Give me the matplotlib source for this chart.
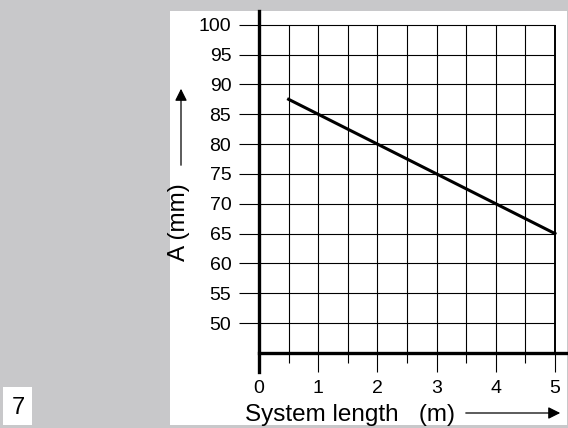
import numpy as np
import matplotlib.pyplot as plt
from matplotlib.patches import Rectangle

plt.rcParams['font.family'] = ['Liberation Sans', 'DejaVu Sans']

# data
length_m = [0.5, 1, 2, 3, 4, 5]
amplitude_mm = [87.5, 85, 80, 75, 70, 65]
y_ticks = [50, 55, 60, 65, 70, 75, 80, 85, 90, 95, 100]
x_ticks = [0, 1, 2, 3, 4, 5]
x_minor = [0.5, 1.5, 2.5, 3.5, 4.5]

W, H = 568, 428
fig = plt.figure(figsize=(W / 100, H / 100), dpi=100)
fig.patch.set_facecolor('#c8c8ca')

# white sheet
fig.patches.append(Rectangle((170 / W, 3 / H), 397 / W, 414 / H,
                             transform=fig.transFigure, facecolor='white',
                             edgecolor='none', zorder=-5))
# little number box bottom left
fig.patches.append(Rectangle((3 / W, 3 / H), 29 / W, 38 / H,
                             transform=fig.transFigure, facecolor='white',
                             edgecolor='none', zorder=-5))
fig.text(18 / W, (H - 408) / H, "7", fontsize=17, ha='center', va='center')

# axes: x 0..5.2 -> px 259..567, y 41.8..102.3 -> px 372..11
ax = fig.add_axes([259 / W, (H - 372) / H, 307.8 / W, 361 / H])
ax.set_zorder(2)
ax.set_xlim(0, 5.2)
ax.set_ylim(41.8, 102.3)
ax.patch.set_alpha(0)

for s in ['top', 'right']:
    ax.spines[s].set_visible(False)
ax.spines['left'].set_linewidth(2.4)
ax.spines['bottom'].set_linewidth(2.4)
ax.spines['bottom'].set_position(('data', 45))
ax.spines['bottom'].set_bounds(0, 5.2)

# grid
ax.hlines(y_ticks, 0, 5, color='black', lw=0.8, zorder=1)
ax.vlines(x_minor + x_ticks[1:-1], 45, 100, color='black', lw=0.8, zorder=1)
ax.vlines([5], 45, 100, color='black', lw=1.4, zorder=1)

ax.set_yticks(y_ticks)
ax.set_yticklabels([str(v) for v in y_ticks])
ax.tick_params(axis='y', length=14.4, width=0.8, pad=5.5, labelsize=14)
ax.set_xticks(x_ticks)
ax.set_xticks(x_minor, minor=True)
ax.tick_params(axis='x', which='major', length=13.7, width=0.8, pad=6, labelsize=14)
ax.tick_params(axis='x', which='minor', length=7, width=0.8)

ax.plot(length_m, amplitude_mm, color='black', lw=2.2,
        solid_capstyle='projecting', zorder=3)

# axis titles with arrows
fig.text(245 / W, (H - 421) / H, "System length   (m)", fontsize=17.5,
         ha='left', va='baseline')
ax.annotate("", xy=(563, H - 413), xytext=(463, H - 413),
            xycoords='figure pixels', textcoords='figure pixels',
            arrowprops=dict(arrowstyle='-|>', color='black', lw=0.9,
                            mutation_scale=18))
fig.text(178.5 / W, (H - 222) / H, "A (mm)", fontsize=17.5, rotation=90,
         ha='center', va='center')
ax.annotate("", xy=(181, H - 86), xytext=(181, H - 168),
            xycoords='figure pixels', textcoords='figure pixels',
            arrowprops=dict(arrowstyle='-|>', color='black', lw=0.9,
                            mutation_scale=18))

fig.savefig("out.png", dpi=100, facecolor=fig.get_facecolor())
